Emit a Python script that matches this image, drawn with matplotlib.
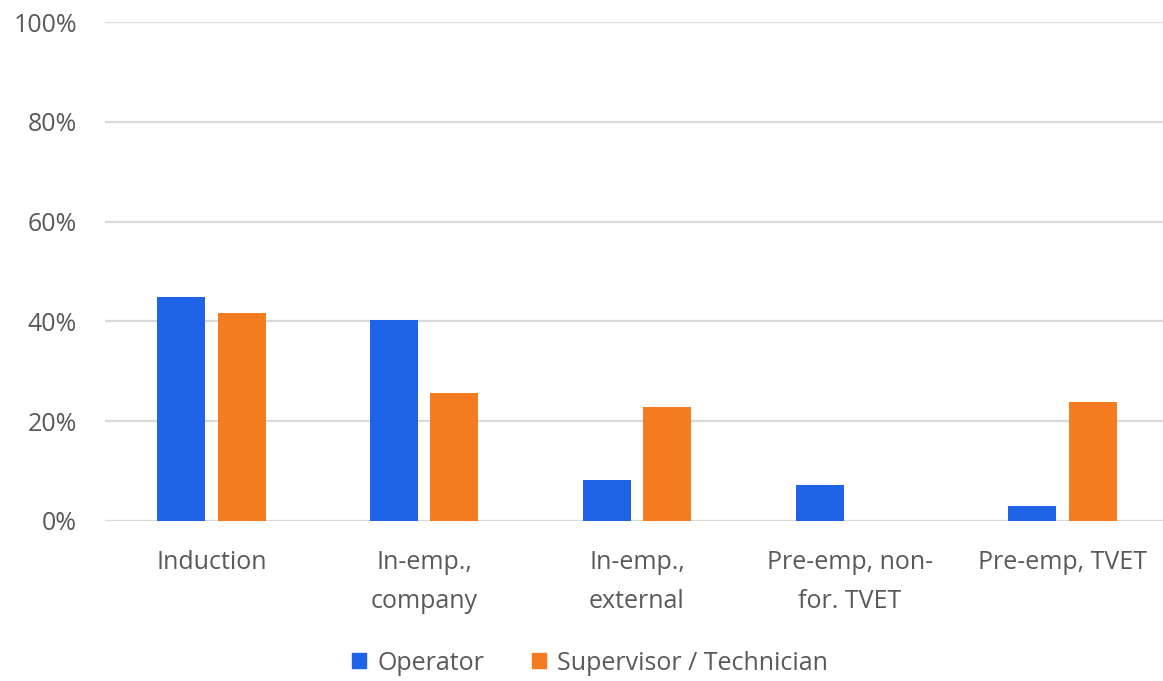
import matplotlib
matplotlib.use("Agg")
import matplotlib.pyplot as plt
import numpy as np
from matplotlib.patches import Patch

categories = ["Induction", "In-emp.,\ncompany", "In-emp.,\nexternal",
              "Pre-emp, non-\nfor. TVET", "Pre-emp, TVET"]
operator = [44.8, 40.3, 8.2, 7.2, 3.1]
supervisor = [41.6, 25.6, 22.8, 0.0, 23.8]
series_names = ["Operator", "Supervisor / Technician"]
yticks = [0, 20, 40, 60, 80, 100]
ytick_labels = ["0%", "20%", "40%", "60%", "80%", "100%"]

blue = "#1F63E6"
orange = "#F47B20"
text_grey = "#595959"
grid_grey = "#D9D9D9"

plt.rcParams["font.family"] = ["Open Sans", "DejaVu Sans"]

fig = plt.figure(figsize=(11.63, 6.81), dpi=100)
W, H = 1163, 681
left, right = 105, 1169
top, bottom = 22, 521
ax = fig.add_axes([left / W, 1 - bottom / H, (right - left) / W, (bottom - top) / H])

x = np.arange(len(categories))
bw = 0.226
off = 0.142
ax.bar(x - off, operator, bw, color=blue, label=series_names[0], zorder=3)
ax.bar(x + off, supervisor, bw, color=orange, label=series_names[1], zorder=3)

ax.set_xlim(-0.5, len(categories) - 0.5)
ax.set_ylim(0, 100)
ax.set_yticks(yticks)
ax.set_yticklabels(ytick_labels)
ax.set_xticks(x)
ax.set_xticklabels(categories, linespacing=1.75)
ax.yaxis.grid(True, color=grid_grey, linewidth=1.6, zorder=0)
ax.set_axisbelow(True)
for s in ax.spines.values():
    s.set_visible(False)
ax.tick_params(axis="both", length=0, colors=text_grey, labelsize=18)
ax.tick_params(axis="x", pad=21)
ax.tick_params(axis="y", pad=20)

handles = [Patch(color=blue), Patch(color=orange)]
fig.legend(handles, series_names, loc="center", bbox_to_anchor=(590 / W, 1 - 663 / H),
           ncol=2, frameon=False, fontsize=18, labelcolor=text_grey,
           handlelength=0.55, handleheight=0.55, handletextpad=0.45, columnspacing=1.9)

fig.savefig("out.png", dpi=100)
